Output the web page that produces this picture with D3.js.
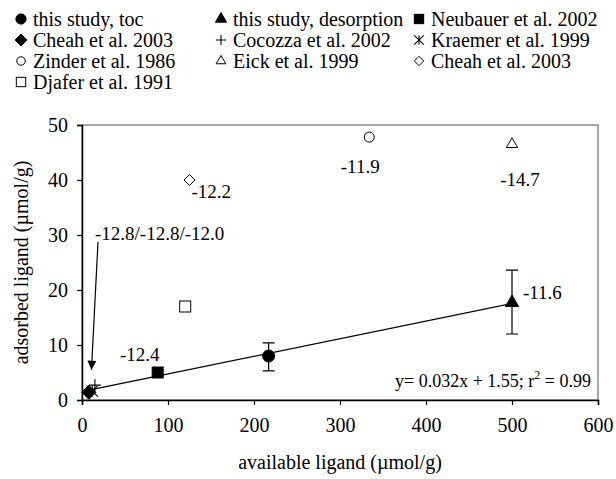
<!DOCTYPE html>
<html>
<head>
<meta charset="utf-8">
<script src="https://cdn.jsdelivr.net/npm/d3@7"></script>
<style>
  html, body { margin: 0; padding: 0; background: #fff; }
  svg text { font-family: "Liberation Serif", "DejaVu Serif", "Times New Roman", serif; fill: #000; }
</style>
</head>
<body>
<svg id="chart" width="616" height="479"></svg>
<script>
// Sources of adsorption data, in legend order
const sourceNames = [
  "this study, toc", "this study, desorption", "Neubauer et al. 2002",
  "Cheah et al. 2003", "Cocozza et al. 2002", "Kraemer et al. 1999",
  "Zinder et al. 1986", "Eick et al. 1999", "Cheah et al. 2003",
  "Djafer et al. 1991"
];
const markerKinds = [
  "circleFilled", "triangleFilled", "squareFilled",
  "diamondFilled", "plus", "asterisk",
  "circleOpen", "triangleOpen", "diamondOpen",
  "squareOpen"
];
// available ligand (µmol/g) and adsorbed ligand (µmol/g)
const availableLigand = [217, 500, 88, 8, 15, 12, 334, 500, 125, 120];
const adsorbedLigand  = [8.0, 17.7, 5.0, 1.4, 2.7, 1.6, 47.8, 46.5, 40.0, 17.0];
const errorLow  = [5.3, 12.0, null, null, null, null, null, null, null, null];
const errorHigh = [10.4, 23.6, null, null, null, null, null, null, null, null];
const valueLabels = ["", "-11.6", "-12.4", "", "", "", "-11.9", "-14.7", "-12.2", ""];
const clusterLabel = "-12.8/-12.8/-12.0";

const xTicks = [0, 100, 200, 300, 400, 500, 600];
const yTicks = [0, 10, 20, 30, 40, 50];

// linear fit
const fitSlope = 0.032, fitIntercept = 1.55, fitR2 = 0.99;
const fitRange = [8, 500];

const FONT = '"Liberation Serif", "DejaVu Serif", "Times New Roman", serif';
const FS = "20px";      // legend, ticks, axis titles
const FS_LABEL = "19px"; // value labels
const FS_EQ = "18px";    // fit equation

const svg = d3.select("#chart").attr("font-family", FONT);
const margin = { left: 82, right: 18, top: 125, bottom: 79 };
const W = 616, H = 479;

const x = d3.scaleLinear().domain([0, 600]).range([margin.left, W - margin.right]);
const y = d3.scaleLinear().domain([0, 50]).range([H - margin.bottom, margin.top]);

// frame
svg.append("rect")
  .attr("x", x(0)).attr("y", y(50))
  .attr("width", x(600) - x(0)).attr("height", y(0) - y(50))
  .attr("fill", "none").attr("stroke", "#555").attr("stroke-width", 1);

// axes
const xAxis = svg.append("g").attr("transform", `translate(0,${y(0)})`)
  .call(d3.axisBottom(x).tickValues(xTicks).tickSize(5).tickPadding(13).tickFormat(d3.format("d")));
const yAxis = svg.append("g").attr("transform", `translate(${x(0)},0)`)
  .call(d3.axisLeft(y).tickValues(yTicks).tickSize(5).tickPadding(9).tickFormat(d3.format("d")));
[xAxis, yAxis].forEach(g => {
  g.attr("font-family", FONT).attr("font-size", FS);
  g.select(".domain").attr("stroke", "#000").attr("stroke-width", 1.5);
  g.selectAll(".tick line").attr("stroke", "#000").attr("stroke-width", 1.2);
  g.selectAll(".tick text").attr("fill", "#000");
});

// axis titles
svg.append("text")
  .attr("x", x(300)).attr("y", 469)
  .attr("text-anchor", "middle").attr("font-size", FS)
  .text("available ligand (µmol/g)");
svg.append("text")
  .attr("transform", `translate(28,${y(25)}) rotate(-90)`)
  .attr("text-anchor", "middle").attr("font-size", FS)
  .text("adsorbed ligand (µmol/g)");

// marker drawing
function drawMarker(g, kind, cx, cy, scale) {
  const s = scale || 1;
  const filled = kind.endsWith("Filled");
  const fill = filled ? "#000" : "#fff";
  const sw = 1;
  if (kind.startsWith("circle")) {
    g.append("circle").attr("cx", cx).attr("cy", cy)
      .attr("r", (filled ? 6 : 5) * s)
      .attr("fill", fill).attr("stroke", "#000").attr("stroke-width", sw);
  } else if (kind.startsWith("triangle")) {
    const sz = (filled ? 75 : 55) * s * s;
    g.append("path").attr("transform", `translate(${cx},${cy})`)
      .attr("d", d3.symbol(d3.symbolTriangle, sz)())
      .attr("fill", fill).attr("stroke", "#000").attr("stroke-width", sw);
  } else if (kind.startsWith("square")) {
    const h = 5.5 * s;
    g.append("rect").attr("x", cx - h).attr("y", cy - h)
      .attr("width", 2 * h).attr("height", 2 * h)
      .attr("fill", fill).attr("stroke", "#000").attr("stroke-width", sw);
  } else if (kind.startsWith("diamond")) {
    const h = (filled ? 7 : 5.5) * s;
    g.append("path")
      .attr("d", `M${cx},${cy - h}L${cx + h},${cy}L${cx},${cy + h}L${cx - h},${cy}Z`)
      .attr("fill", fill).attr("stroke", "#000").attr("stroke-width", sw);
  } else if (kind === "plus") {
    const h = 6 * s;
    g.append("path")
      .attr("d", `M${cx - h},${cy}H${cx + h}M${cx},${cy - h}V${cy + h}`)
      .attr("stroke", "#000").attr("stroke-width", 1.1).attr("fill", "none");
  } else if (kind === "asterisk") {
    const h = 5.5 * s;
    g.append("path")
      .attr("d", `M${cx - h},${cy - h}L${cx + h},${cy + h}M${cx + h},${cy - h}L${cx - h},${cy + h}M${cx},${cy - h}V${cy + h}`)
      .attr("stroke", "#000").attr("stroke-width", 1.1).attr("fill", "none");
  }
}

// regression line
svg.append("line")
  .attr("x1", x(fitRange[0])).attr("y1", y(fitSlope * fitRange[0] + fitIntercept))
  .attr("x2", x(fitRange[1])).attr("y2", y(fitSlope * fitRange[1] + fitIntercept))
  .attr("stroke", "#000").attr("stroke-width", 1.2);

// error bars
const bars = svg.append("g");
availableLigand.forEach((xv, i) => {
  if (errorLow[i] == null) return;
  const cx = x(xv);
  bars.append("path")
    .attr("d", `M${cx},${y(errorLow[i])}V${y(errorHigh[i])}` +
               `M${cx - 6},${y(errorLow[i])}H${cx + 6}` +
               `M${cx - 6},${y(errorHigh[i])}H${cx + 6}`)
    .attr("stroke", "#000").attr("stroke-width", 1.2).attr("fill", "none");
});

// points (the cluster near the origin overlaps)
const pts = svg.append("g");
const drawOrder = [5, 4, 3, 0, 1, 2, 6, 7, 8, 9];
drawOrder.forEach(i => drawMarker(pts, markerKinds[i], x(availableLigand[i]), y(adsorbedLigand[i])));

// value labels next to points
const labelOffsets = {
  1: { dx: 11, dy: -4, anchor: "start" },
  2: { dx: -18, dy: -12, anchor: "middle" },
  6: { dx: -9, dy: 36, anchor: "middle" },
  7: { dx: 8, dy: 42, anchor: "middle" },
  8: { dx: 2, dy: 18, anchor: "start" }
};
valueLabels.forEach((t, i) => {
  if (!t) return;
  const o = labelOffsets[i];
  svg.append("text")
    .attr("x", x(availableLigand[i]) + o.dx)
    .attr("y", y(adsorbedLigand[i]) + o.dy)
    .attr("text-anchor", o.anchor).attr("font-size", FS_LABEL)
    .text(t);
});

// label and arrow for the cluster near the origin
svg.append("defs").append("marker")
  .attr("id", "arrowHead").attr("viewBox", "0 0 10 10")
  .attr("refX", 10).attr("refY", 5)
  .attr("markerWidth", 10).attr("markerHeight", 9)
  .attr("markerUnits", "userSpaceOnUse")
  .attr("orient", "auto")
  .append("path").attr("d", "M0,0L10,5L0,10Z").attr("fill", "#000");
svg.append("line")
  .attr("x1", 98).attr("y1", 242)
  .attr("x2", x(11)).attr("y2", y(5.5))
  .attr("stroke", "#000").attr("stroke-width", 1.2)
  .attr("marker-end", "url(#arrowHead)");
svg.append("text")
  .attr("x", 95).attr("y", 240)
  .attr("font-size", FS_LABEL).text(clusterLabel);

// fit equation
const eq = svg.append("text")
  .attr("x", x(600) - 7).attr("y", y(0) - 13)
  .attr("text-anchor", "end").attr("font-size", FS_EQ);
eq.append("tspan").text(`y= ${fitSlope}x + ${fitIntercept}; r`);
eq.append("tspan").attr("dy", -8).attr("font-size", "12px").text("2");
eq.append("tspan").attr("dy", 8).text(` = ${fitR2}`);

// legend: three columns, row-major
const legend = svg.append("g");
const colX = [21, 221, 419];
const rowY = [19, 40, 61, 82];
sourceNames.forEach((name, i) => {
  const c = i % 3, r = Math.floor(i / 3);
  const mx = colX[c], my = rowY[r];
  drawMarker(legend, markerKinds[i], mx, my, 0.85);
  legend.append("text")
    .attr("x", mx + 12).attr("y", my + 6.5)
    .attr("font-size", FS).text(name);
});
</script>
</body>
</html>
